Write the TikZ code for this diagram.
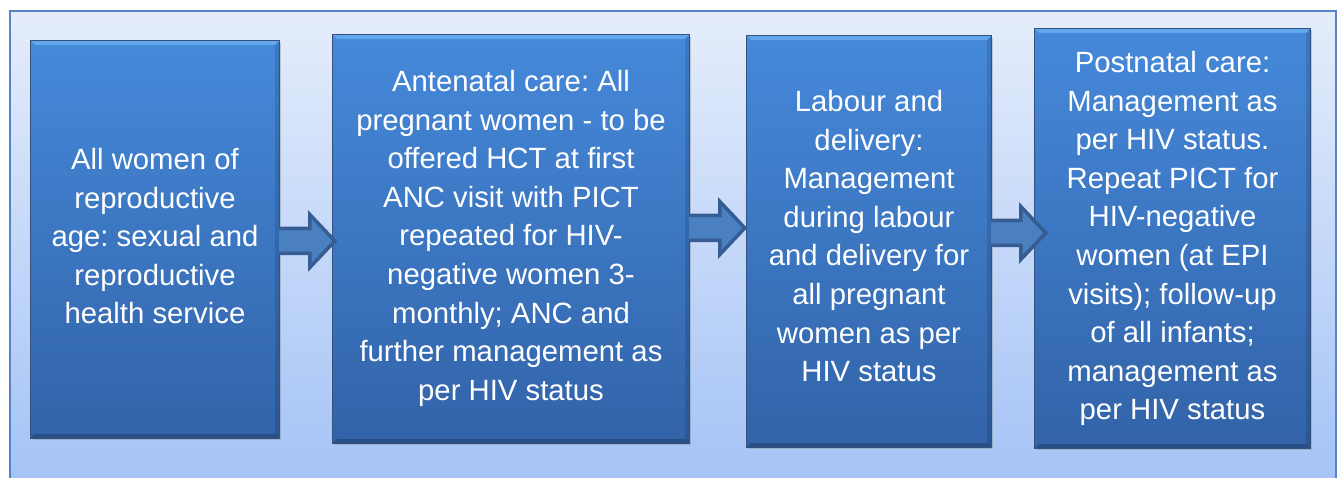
\documentclass[tikz,border=0pt]{standalone}
\usepackage{fontspec}
\setmainfont{Liberation Sans}
\frenchspacing
\usetikzlibrary{calc,shadows}
\definecolor{bgtop}{RGB}{229,237,251}
\definecolor{bgbot}{RGB}{163,194,246}
\definecolor{frameline}{RGB}{86,132,200}
\definecolor{boxtop}{RGB}{69,137,218}
\definecolor{boxbot}{RGB}{50,99,168}
\definecolor{boxline}{RGB}{52,82,125}
\definecolor{bevtop}{RGB}{98,166,236}
\definecolor{bevbot}{RGB}{40,78,135}
\definecolor{arrowfill}{RGB}{74,127,192}
\definecolor{arrowline}{RGB}{55,92,145}
\newcommand\bevelbox[1]{%
  \fill[bevtop] (#1.north west) -- (#1.north east) -- ($(#1.north east)+(-4,4)$) -- ($(#1.north west)+(4,4)$) -- cycle;
  \fill[bevbot] (#1.south west) -- (#1.south east) -- ($(#1.south east)+(-4,-4)$) -- ($(#1.south west)+(4,-4)$) -- cycle;
  \fill[black,opacity=0.12] (#1.north east) -- (#1.south east) -- ($(#1.south east)+(-4,-4)$) -- ($(#1.north east)+(-4,4)$) -- cycle;
  \draw[boxline,line width=0.8pt] (#1.north west) rectangle (#1.south east);}
\newcommand\blockarr[2]{%
  \draw[blockarrow] ($(#1)+(0,-12.5)$) -- ($(#2)+(-25,-12.5)$) -- ($(#2)+(-25,-26.5)$) -- (#2) -- ($(#2)+(-25,26.5)$) -- ($(#2)+(-25,12.5)$) -- ($(#1)+(0,12.5)$);}
\begin{document}
\begin{tikzpicture}[x=1pt,y=-1pt,
  box/.style={top color=boxtop, bottom color=boxbot, inner sep=0pt,
    drop shadow={opacity=0.35,shadow xshift=1.5pt,shadow yshift=-2pt}},
  txt/.style={text=white, align=center, inner sep=0pt, anchor=north,
    font=\fontsize{29.3}{38.6}\selectfont},
  blockarrow/.style={fill=arrowfill, draw=arrowline, line width=3.5pt, line join=miter}]
\useasboundingbox (0,0) rectangle (1343,478);
\fill[white] (0,0) rectangle (1343,478);
\shade[top color=bgtop, bottom color=bgbot] (10,11) rectangle (1336,490);
\draw[frameline, line width=1.2pt] (10,490) -- (10,11) -- (1336,11) -- (1336,490);

\node[box, minimum width=248pt, minimum height=397pt] (b1) at (155,239.5) {};
\node[box, minimum width=356pt, minimum height=408pt] (b2) at (511,239) {};
\node[box, minimum width=244pt, minimum height=411pt] (b3) at (869,241.5) {};
\node[box, minimum width=275pt, minimum height=419pt] (b4) at (1172.5,238.5) {};
\bevelbox{b1}\bevelbox{b2}\bevelbox{b3}\bevelbox{b4}

\node[txt] (t1) at (155,148) {All women of\\reproductive\\age: sexual and\\reproductive\\health service};
\node[txt] (t2) at (511,70) {Antenatal care: All\\pregnant women - to be\\offered HCT at first\\ANC visit with PICT\\repeated for HIV-\\negative women 3-\\monthly; ANC and\\further management as\\per HIV status};
\node[txt] (t3) at (869,90) {Labour and\\delivery:\\Management\\during labour\\and delivery for\\all pregnant\\women as per\\HIV status};
\node[txt] (t4) at (1172.5,51) {Postnatal care:\\Management as\\per HIV status.\\Repeat PICT for\\HIV-negative\\women (at EPI\\visits); follow-up\\of all infants;\\management as\\per HIV status};

\coordinate (a1t) at ($(b2.west)+(2,2)$);
\coordinate (a1s) at (b1.east |- a1t);
\coordinate (a2t) at ($(b3.west)+(-2,-13.5)$);
\coordinate (a2s) at (b2.east |- a2t);
\coordinate (a3t) at ($(b4.west)+(11,-5.5)$);
\coordinate (a3s) at (b3.east |- a3t);
\blockarr{a1s}{a1t}
\blockarr{a2s}{a2t}
\blockarr{a3s}{a3t}
\end{tikzpicture}
\end{document}
